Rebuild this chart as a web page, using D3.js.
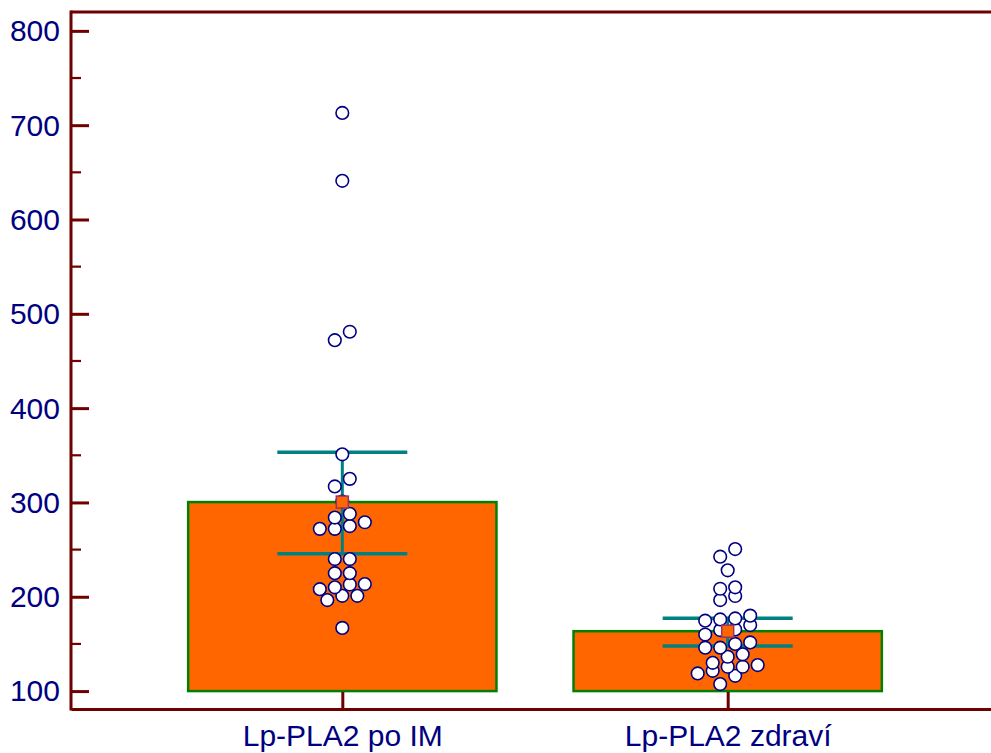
<!DOCTYPE html>
<html>
<head>
<meta charset="utf-8">
<script src="https://cdn.jsdelivr.net/npm/d3@7"></script>
<style>
  body { margin: 0; background: #fff; }
  svg { display: block; font-family: "Liberation Sans", Arial, sans-serif; }
</style>
</head>
<body>
<div id="chart"></div>
<script>
// Data
const categories = ["Lp-PLA2 po IM", "Lp-PLA2 zdraví"];
const means = [300.4, 163.5];
const ciLow = [245.6, 147.7];
const ciHigh = [353.2, 177.2];
const valuesIM = [713, 641, 481, 472, 351, 325, 317, 301, 288, 284, 279, 275, 272, 272,
  240, 240, 225, 225, 213.5, 213, 210, 208, 201, 201, 196.5, 167];
const valuesHealthy = [250.6, 242.5, 228, 210, 208.5, 200.8, 196.5, 180, 177, 176, 174.6,
  170, 165.4, 164.7, 160, 151.6, 150, 146, 146, 139, 136.4, 130, 127.6, 125.8, 125.8,
  121.5, 118.7, 116.2, 107.4];
const groups = [valuesIM, valuesHealthy];
const yTicks = [100, 200, 300, 400, 500, 600, 700, 800];

const width = 991, height = 753;
const frame = { left: 71, right: 999, top: 12, bottom: 709 };
const axisColor = "#6e0000";
const textColor = "#000080";

const svg = d3.select("#chart").append("svg")
  .attr("width", width)
  .attr("height", height);

const x = d3.scalePoint()
  .domain(categories)
  .range([frame.left, frame.right])
  .padding(0.704);

const y = d3.scaleLinear()
  .domain([81, 820])
  .range([frame.bottom, frame.top]);

const boxWidth = x.step() * 0.8;
const barHalf = 65;

// bars (mean) from 100
svg.selectAll("rect.bar")
  .data(categories)
  .enter()
  .append("rect")
  .attr("class", "bar")
  .attr("x", d => x(d) - boxWidth / 2)
  .attr("width", boxWidth)
  .attr("y", (d, i) => y(means[i]))
  .attr("height", (d, i) => y(100) - y(means[i]))
  .attr("fill", "#ff6600")
  .attr("stroke", "#008000")
  .attr("stroke-width", 2.5);

// error bars
categories.forEach((c, i) => {
  const g = svg.append("g")
    .attr("stroke", "#008080")
    .attr("fill", "none");
  g.append("line")
    .attr("x1", x(c)).attr("x2", x(c))
    .attr("y1", y(ciHigh[i])).attr("y2", y(ciLow[i]))
    .attr("stroke-width", 3);
  [ciLow[i], ciHigh[i]].forEach(v => {
    g.append("line")
      .attr("x1", x(c) - barHalf).attr("x2", x(c) + barHalf)
      .attr("y1", y(v)).attr("y2", y(v))
      .attr("stroke-width", 3.5);
  });
});

// dot layout: values grouped into rows, each row centred
const rowRange = 10.8;
const dotGap = 15;
function layoutDots(values) {
  const sorted = values.slice().sort((a, b) => a - b);
  const rows = [];
  let row = null;
  sorted.forEach(v => {
    if (!row || v - row[0] >= rowRange) {
      row = [v];
      rows.push(row);
    } else {
      row.push(v);
    }
  });
  const out = [];
  rows.forEach(r => {
    r.forEach((v, k) => {
      out.push({ v: v, dx: (k - (r.length - 1) / 2) * dotGap });
    });
  });
  return out;
}

categories.forEach((c, i) => {
  svg.append("g")
    .selectAll("circle")
    .data(layoutDots(groups[i]))
    .enter()
    .append("circle")
    .attr("cx", d => x(c) + d.dx)
    .attr("cy", d => y(d.v))
    .attr("r", 6.3)
    .attr("fill", "#fff")
    .attr("stroke", "#000080")
    .attr("stroke-width", 1.6);
});

// mean markers
svg.selectAll("rect.mean")
  .data(categories)
  .enter()
  .append("rect")
  .attr("class", "mean")
  .attr("x", d => x(d) - 6)
  .attr("y", (d, i) => y(means[i]) - 6)
  .attr("width", 12)
  .attr("height", 12)
  .attr("fill", "#ff6600")
  .attr("stroke", "#993366")
  .attr("stroke-width", 1.5);

// frame
svg.append("line")
  .attr("x1", frame.left).attr("x2", frame.right)
  .attr("y1", frame.top).attr("y2", frame.top)
  .attr("stroke", axisColor).attr("stroke-width", 3);

// Y axis
const yAxis = d3.axisRight(y)
  .tickValues(yTicks)
  .tickSize(18)
  .tickFormat(d3.format("d"));

const yg = svg.append("g")
  .attr("transform", "translate(" + frame.left + ",0)")
  .call(yAxis);
yg.select(".domain").remove();
yg.selectAll(".tick line").attr("stroke", axisColor).attr("stroke-width", 3);
yg.selectAll(".tick text")
  .attr("x", -11)
  .attr("text-anchor", "end")
  .attr("fill", textColor)
  .style("font-size", "30px")
  .attr("dy", "0.33em");

// minor ticks
const minorTicks = yTicks.slice(0, -1).map(d => d + 50);
svg.append("g")
  .selectAll("line")
  .data(minorTicks)
  .enter()
  .append("line")
  .attr("x1", frame.left).attr("x2", frame.left + 10)
  .attr("y1", d => y(d)).attr("y2", d => y(d))
  .attr("stroke", axisColor).attr("stroke-width", 2.2);

svg.append("line")
  .attr("x1", frame.left).attr("x2", frame.left)
  .attr("y1", frame.top - 1.5).attr("y2", frame.bottom + 1.5)
  .attr("stroke", axisColor).attr("stroke-width", 3);

// X axis
const xAxis = d3.axisTop(x).tickSize(17).tickSizeOuter(0);
const xg = svg.append("g")
  .attr("transform", "translate(0," + frame.bottom + ")")
  .call(xAxis);
xg.select(".domain")
  .attr("stroke", axisColor).attr("stroke-width", 3);
xg.selectAll(".tick line").attr("stroke", axisColor).attr("stroke-width", 3);
xg.selectAll(".tick text")
  .attr("y", 37)
  .attr("dy", 0)
  .attr("fill", textColor)
  .style("font-size", "30px");
</script>
</body>
</html>
